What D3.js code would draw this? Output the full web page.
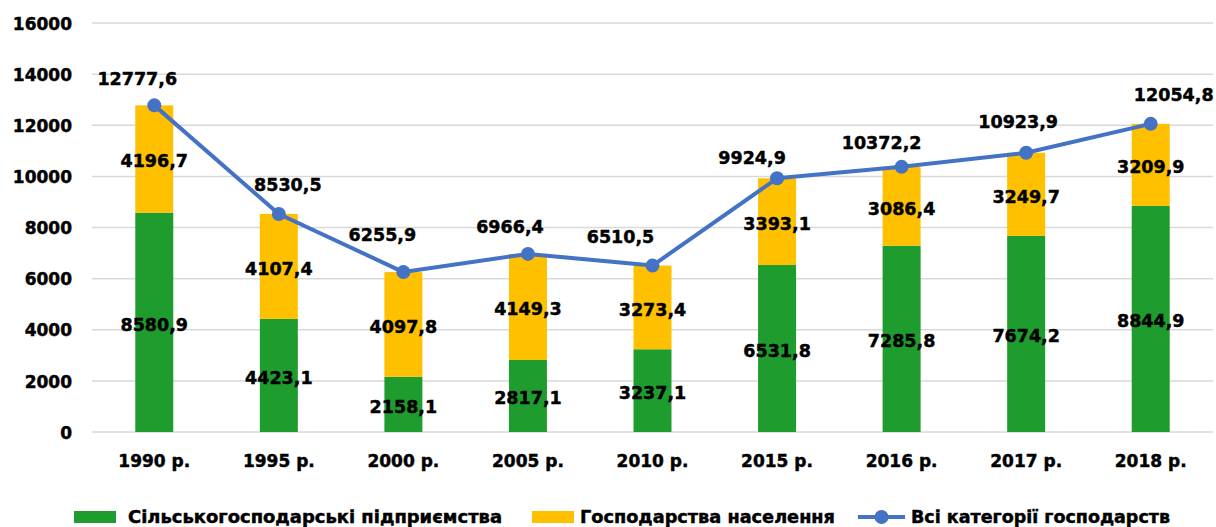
<!DOCTYPE html>
<html>
<head>
<meta charset="utf-8">
<script src="https://cdn.jsdelivr.net/npm/d3@7"></script>
<style>
  body { margin: 0; background: #fff; }
  svg text { font-family: "DejaVu Sans", Verdana, sans-serif; font-weight: bold; fill: #000; stroke: #000; stroke-width: 0.45px; }
</style>
</head>
<body>
<svg id="chart" width="1216" height="527"></svg>
<script>
// chart data
var years = ['1990 р.', '1995 р.', '2000 р.', '2005 р.', '2010 р.', '2015 р.', '2016 р.', '2017 р.', '2018 р.'];
var enterprises = [8580.9, 4423.1, 2158.1, 2817.1, 3237.1, 6531.8, 7285.8, 7674.2, 8844.9];
var households = [4196.7, 4107.4, 4097.8, 4149.3, 3273.4, 3393.1, 3086.4, 3249.7, 3209.9];
var totals = [12777.6, 8530.5, 6255.9, 6966.4, 6510.5, 9924.9, 10372.2, 10923.9, 12054.8];
var yTicks = [0, 2000, 4000, 6000, 8000, 10000, 12000, 14000, 16000];
var seriesNames = ['Сільськогосподарські підприємства', 'Господарства населення', 'Всі категорії господарств'];

var green = '#1e9c2e', yellow = '#ffc000', blue = '#4472c4';
var fmt = function(v) { return v.toFixed(1).replace('.', ','); };

// the total labels were dragged by hand in the original, so nudge them
var totalNudgeX = [-17, 9, -21, -18, -32, -25, -20, -8, 23];
var totalNudgeY = [-27, -29, -37, -27, -29, -21, -24, -31, -29];

var svg = d3.select('#chart');

var x = d3.scaleBand().domain(years).range([92, 1213]).paddingInner(0.695).paddingOuter(0.3475);
var y = d3.scaleLinear().domain([0, 16000]).range([432, 23]);

// gridlines
svg.append('g').selectAll('line').data(yTicks).enter()
  .append('line')
  .attr('x1', 92).attr('x2', 1213)
  .attr('y1', function(d) { return y(d); })
  .attr('y2', function(d) { return y(d); })
  .attr('stroke', '#d9d9d9').attr('stroke-width', 1.5);

// y axis labels
var yAxis = d3.axisLeft(y).tickValues(yTicks).tickSize(0).tickPadding(0).tickFormat(d3.format('d'));
var gy = svg.append('g').attr('transform', 'translate(72,0)').call(yAxis);
gy.select('.domain').remove();
gy.selectAll('text').style('font-size', '17px').attr('dy', '0.36em');

// x axis labels
var xAxis = d3.axisBottom(x).tickSize(0).tickPadding(0);
var gx = svg.append('g').attr('transform', 'translate(0,455)').call(xAxis);
gx.select('.domain').remove();
gx.selectAll('text').style('font-size', '17px').attr('dy', '0.71em');

// stacked bars
var rows = years.map(function(c, i) { return { cat: c, a: enterprises[i], b: households[i] }; });
var stack = d3.stack().keys(['a', 'b'])(rows);
var colors = [green, yellow];

stack.forEach(function(layer, k) {
  svg.append('g').selectAll('rect').data(layer).enter()
    .append('rect')
    .attr('x', function(d) { return x(d.data.cat); })
    .attr('width', x.bandwidth())
    .attr('y', function(d) { return y(d[1]); })
    .attr('height', function(d) { return y(d[0]) - y(d[1]); })
    .attr('fill', colors[k]);
});

// total line
var cx = function(i) { return x(years[i]) + x.bandwidth() / 2; };
var line = d3.line()
  .x(function(d, i) { return cx(i); })
  .y(function(d) { return y(d); });

svg.append('path').datum(totals)
  .attr('d', line)
  .attr('fill', 'none')
  .attr('stroke', blue)
  .attr('stroke-width', 4)
  .attr('stroke-linejoin', 'round');

svg.append('g').selectAll('circle').data(totals).enter()
  .append('circle')
  .attr('cx', function(d, i) { return cx(i); })
  .attr('cy', function(d) { return y(d); })
  .attr('r', 7)
  .attr('fill', blue);

// segment labels
stack.forEach(function(layer, k) {
  svg.append('g').selectAll('text').data(layer).enter()
    .append('text')
    .attr('x', function(d) { return x(d.data.cat) + x.bandwidth() / 2; })
    .attr('y', function(d) { return (y(d[0]) + y(d[1])) / 2 + 2; })
    .attr('dy', '0.36em')
    .attr('text-anchor', 'middle')
    .style('font-size', '17.5px')
    .text(function(d) { return fmt(d[1] - d[0]); });
});

// total labels
svg.append('g').selectAll('text').data(totals).enter()
  .append('text')
  .attr('x', function(d, i) { return cx(i) + totalNudgeX[i]; })
  .attr('y', function(d, i) { return y(d) + totalNudgeY[i]; })
  .attr('dy', '0.36em')
  .attr('text-anchor', 'middle')
  .style('font-size', '17.5px')
  .text(function(d) { return fmt(d); });

// legend
var lg = svg.append('g');
var ly = 517;
lg.append('rect').attr('x', 74).attr('y', ly - 6).attr('width', 42).attr('height', 12).attr('fill', green);
lg.append('text').attr('x', 128).attr('y', ly).attr('dy', '0.36em')
  .attr('textLength', 374).attr('lengthAdjust', 'spacingAndGlyphs')
  .style('font-size', '17px').text(seriesNames[0]);
lg.append('rect').attr('x', 532).attr('y', ly - 6).attr('width', 42).attr('height', 12).attr('fill', yellow);
lg.append('text').attr('x', 580).attr('y', ly).attr('dy', '0.36em')
  .attr('textLength', 255).attr('lengthAdjust', 'spacingAndGlyphs')
  .style('font-size', '17px').text(seriesNames[1]);
lg.append('line').attr('x1', 858).attr('x2', 905).attr('y1', ly).attr('y2', ly)
  .attr('stroke', blue).attr('stroke-width', 4);
lg.append('circle').attr('cx', 881.5).attr('cy', ly).attr('r', 7).attr('fill', blue);
lg.append('text').attr('x', 911).attr('y', ly).attr('dy', '0.36em')
  .attr('textLength', 259).attr('lengthAdjust', 'spacingAndGlyphs')
  .style('font-size', '17px').text(seriesNames[2]);
</script>
</body>
</html>
